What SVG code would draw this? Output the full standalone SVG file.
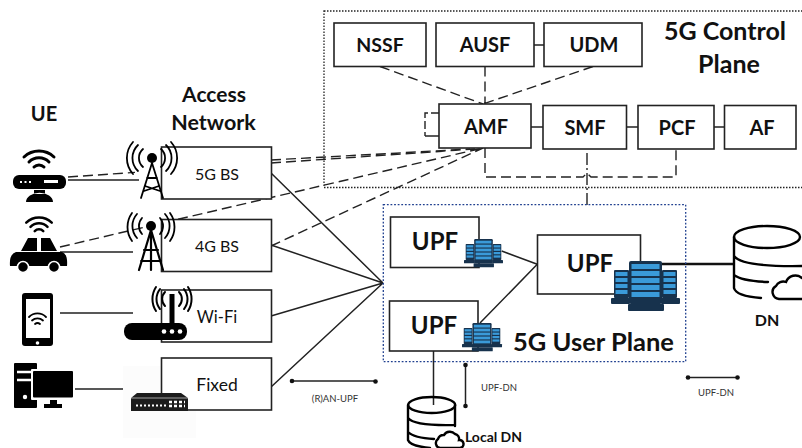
<svg xmlns="http://www.w3.org/2000/svg" xmlns:xlink="http://www.w3.org/1999/xlink" width="802" height="448" viewBox="0 0 802 448">
<style>
text{font-family:"Lato","Open Sans","Liberation Sans",sans-serif;fill:#111;text-anchor:middle}
.b{font-weight:700}
.box{fill:#fff;stroke:#222;stroke-width:1.6}
.s{fill:none;stroke:#222;stroke-width:1.5}
.d{fill:none;stroke:#222;stroke-width:1.4;stroke-dasharray:10 5}
.i{fill:none;stroke:#000;stroke-linecap:round}
.db{fill:none;stroke:#000;stroke-width:2.4;stroke-linecap:round}
.small{font-size:9.5px;fill:#333}
</style>
<defs>
<g id="wifi" class="i"><path d="M-15 -4A22 22 0 0 1 15 -4" stroke-width="3"/><path d="M-10 1A14 14 0 0 1 10 1" stroke-width="3"/><path d="M-5 6A7 7 0 0 1 5 6" stroke-width="3"/></g>
<g id="rack"><rect width="15" height="28" rx="1" fill="#17324d"/><rect x="1.500" y="2" width="12" height="4" fill="#3a9ad9"/><rect x="1.500" y="8" width="12" height="4" fill="#3a9ad9"/><rect x="1.500" y="14" width="12" height="4" fill="#3a9ad9"/><rect x="1.500" y="20" width="12" height="4" fill="#3a9ad9"/></g>
<g id="servers">
<use xlink:href="#rack" x="3" y="9"/><use xlink:href="#rack" x="51" y="9"/>
<rect x="0" y="37" width="19" height="6" rx="1" fill="#17324d"/><rect x="50" y="37" width="19" height="6" rx="1" fill="#17324d"/>
<rect x="18" y="0" width="33" height="43" rx="2" fill="#17324d"/>
<rect x="20.500" y="3" width="28" height="5" fill="#3a9ad9"/><rect x="20.500" y="10" width="28" height="5" fill="#3a9ad9"/><rect x="20.500" y="17" width="28" height="5" fill="#3a9ad9"/><rect x="20.500" y="24" width="28" height="5" fill="#3a9ad9"/><rect x="20.500" y="31" width="28" height="5" fill="#3a9ad9"/>
<rect x="17" y="43" width="36" height="7" rx="1" fill="#17324d"/>
</g>
</defs>

<g id="connectors">
<path class="s" d="M534 45H544M531 127H543M626.500 127H638M714 127H724.500"/>
<path class="d" d="M380 66.500L483 104M485 66.500V104M593 66.500L483 104"/>
<path class="d" d="M439 113H425V136" style="stroke-dasharray:8 3"/>
<path class="s" d="M425 136H439"/>
<path class="d" d="M485 148V177H583L587 173L591 177H676V149"/>
<path class="d" d="M587 153V205" style="stroke-dasharray:12 3 2 3"/>
<path class="d" d="M68 177L135 172.400M271 163L475 149M271 160L470 149M60 247L143 227.500M178 219.300L483 148M271 246L483 148"/>
<path class="s" d="M271 173L383 283M271 245L383 283M271 316L383 283M271 387L383 283"/>
<path class="s" d="M68 180H139M60 252H133M60 313H133M73 389H139"/>
<path class="s" d="M501.700 251L537.300 264.300M480 323L537.300 264.300M433.500 351V405"/>
<path d="M640 264H735" fill="none" stroke="#111" stroke-width="2.600"/>
</g>

<g id="control-plane"><rect x="324" y="11" width="490" height="176.500" fill="none" stroke="#222" stroke-width="1.300" stroke-dasharray="1.500 1.500"/>
<text class="b" font-size="25" x="725" y="40">5G Control</text><text class="b" font-size="25" x="729" y="72.500">Plane</text></g>
<g id="user-plane"><rect x="383.300" y="204.700" width="302.400" height="157" fill="none" stroke="#1f3f8f" stroke-width="1.300" stroke-dasharray="1.800 1.800"/>
<text class="b" font-size="25.500" x="593.500" y="351">5G User Plane</text></g>

<g id="nssf"><rect class="box" x="334" y="23" width="92" height="43.500"/><text class="b" font-size="19.500" x="380" y="51.500">NSSF</text></g>
<g id="ausf"><rect class="box" x="436" y="23" width="98" height="43.500"/><text class="b" font-size="20" x="485" y="51.500">AUSF</text></g>
<g id="udm"><rect class="box" x="544" y="23" width="98" height="43.500"/><text class="b" font-size="20" x="594" y="51.500">UDM</text></g>
<g id="amf"><rect class="box" x="439" y="104" width="92" height="44"/><text class="b" font-size="20" x="486" y="133.500">AMF</text></g>
<g id="smf"><rect class="box" x="543" y="105.500" width="83.500" height="43.500"/><text class="b" font-size="20" x="585" y="134.500">SMF</text></g>
<g id="pcf"><rect class="box" x="638" y="105.500" width="76" height="43.500"/><text class="b" font-size="20" x="677" y="134.500">PCF</text></g>
<g id="af"><rect class="box" x="724.500" y="105.500" width="71.500" height="43.500"/><text class="b" font-size="20" x="762" y="134.500">AF</text></g>

<g id="upf1"><rect class="box" x="390.500" y="217" width="88.500" height="50.500"/><text class="b" font-size="24" x="435" y="250">UPF</text><use xlink:href="#servers" transform="translate(464 239) scale(.565)"/></g>
<g id="upf2"><rect class="box" x="389.500" y="301" width="88.500" height="50"/><text class="b" font-size="24" x="434" y="334">UPF</text><use xlink:href="#servers" transform="translate(462 323) scale(.58 .565)"/></g>
<g id="upf3"><rect class="box" x="537.500" y="235" width="103" height="59"/><text class="b" font-size="24" x="590" y="272">UPF</text><use xlink:href="#servers" transform="translate(611 261)"/></g>

<g id="ue-label"><text class="b" font-size="20" x="44" y="120.500">UE</text></g>
<g id="access-label"><text class="b" font-size="21" x="214" y="101.500">Access</text><text class="b" font-size="21.500" x="213.500" y="130">Network</text></g>

<g id="bs5g"><rect class="box" x="161.500" y="147" width="110" height="52"/><text font-size="16" x="217" y="180">5G BS</text>
<g class="i" stroke-width="1.800"><circle cx="152" cy="158" r="5" fill="#000" stroke="none"/><path d="M143 149A12 12 0 0 0 143 167M138 145A18 18 0 0 0 138 171M133 142A24 24 0 0 0 133 174M161 149A12 12 0 0 1 161 167M166 145A18 18 0 0 1 166 171M171 142A24 24 0 0 1 171 174"/><path d="M152 163L141 198M152 163L163 198M147 178H157M145 186L160 191M159 186L144 191"/></g></g>
<g id="bs4g"><rect class="box" x="161.500" y="219.500" width="110" height="52"/><text font-size="16" x="217" y="252">4G BS</text>
<g class="i" stroke-width="1.800"><circle cx="151" cy="226" r="5" fill="#000" stroke="none"/><path d="M142 218A12 12 0 0 0 142 234M137 214A18 18 0 0 0 137 238M132 213A24 24 0 0 0 132 241M160 218A12 12 0 0 1 160 234M165 214A18 18 0 0 1 165 238M170 213A24 24 0 0 1 170 241"/><path d="M151 230L139 270M151 230L163 270M151 230V270M144 250H158M141 261H161" stroke-width="2.200"/></g></g>
<g id="wifi-ap"><rect class="box" x="161.500" y="290" width="110" height="52"/><text font-size="16.500" x="217" y="323">Wi-Fi</text>
<rect x="124" y="323" width="63" height="17" rx="8" fill="#000"/><rect x="169.500" y="294" width="5" height="30" fill="#000"/>
<circle cx="164" cy="331.500" r="2.300" fill="#fff"/><circle cx="172" cy="331.500" r="2.300" fill="#fff"/><circle cx="180" cy="331.500" r="2.300" fill="#fff"/>
<path class="i" stroke-width="2" d="M165 292A10 10 0 0 0 165 306M160 289A16 16 0 0 0 160 309M156 287A22 22 0 0 0 156 311M179 292A10 10 0 0 1 179 306M184 289A16 16 0 0 1 184 309M188 287A22 22 0 0 1 188 311"/></g>
<g id="fixed-ap"><rect x="123" y="366" width="73" height="72" fill="#fcfcfc"/><rect class="box" x="161.500" y="358" width="110" height="52"/><text font-size="17.500" x="217" y="391">Fixed</text>
<path d="M137 393H181L188 398V411H131V398Z" fill="#1c1c1c"/><path d="M131 398H188" stroke="#fff" stroke-width=".6"/><path d="M136 405.500H166" stroke="#fff" stroke-width="2" stroke-dasharray="2 2"/><path d="M169 402H185M169 406H185" stroke="#fff" stroke-width="2.500" stroke-dasharray="3 2"/></g>

<g id="ue-router"><use xlink:href="#wifi" transform="translate(39 161)"/><rect x="13" y="175" width="53" height="14" rx="6" fill="#000"/><path d="M20 182H33" stroke="#fff" stroke-width="2" stroke-dasharray="2 2.500"/><rect x="44" y="180" width="14" height="3" fill="#fff"/><path d="M26 202A13 9 0 0 1 53 202ZM34 194H45V190H34Z" fill="#000"/></g>
<g id="ue-car"><use xlink:href="#wifi" transform="translate(39 226) scale(.85)"/><path d="M28 238H37V251H21ZM41 238H50L57 251H41Z" fill="#000"/><path d="M16 252H62Q68 254 67 266H10Q9 254 16 252Z" fill="#000"/><circle cx="23" cy="267" r="5.500" fill="#000" stroke="#fff" stroke-width="1.500"/><circle cx="54" cy="267" r="5.500" fill="#000" stroke="#fff" stroke-width="1.500"/></g>
<g id="ue-phone"><rect x="22" y="293" width="31" height="53" rx="3" fill="#000"/><rect x="26" y="299" width="24" height="39" fill="#fff"/><circle cx="37.500" cy="343" r="1.800" fill="#fff"/><g class="i" stroke-width="1.800"><path d="M29 317A12 12 0 0 1 46 317M32 320.500A8 8 0 0 1 43 320.500M35 324A4 4 0 0 1 40 324"/></g></g>
<g id="ue-pc"><rect x="14" y="363" width="23" height="45" rx="1" fill="#000"/><path d="M17 372H31M17 380H31" stroke="#fff" stroke-width="2.500"/><circle cx="25" cy="397" r="2.200" fill="#fff"/><rect x="31" y="369" width="44" height="31" rx="1" fill="#fff"/><rect x="33" y="371" width="40" height="26.500" rx="1" fill="#000"/><path d="M50 400H57V404H62V408H44V404H50Z" fill="#000"/></g>

<g id="dn"><ellipse class="db" cx="767" cy="237" rx="33" ry="11"/><g class="db"><path d="M734 237V288Q736 296 761 298M734 256Q742 267 802 266M734 275Q742 281 768 282"/></g>
<g class="db" transform="translate(771 274)"><path d="M8 25A7 7 0 0 1 5 12A8 8 0 0 1 15 8A10 10 0 0 1 31 4M8 25H31"/></g>
<text class="b" font-size="16" x="767" y="326">DN</text></g>
<g id="local-dn"><ellipse class="db" cx="431.700" cy="405" rx="23.500" ry="8"/><g class="db"><path d="M408 405V440Q410 446 430 448M408 418Q414 426 455 425M408 432Q414 438 434 439M455 405V426"/></g>
<g class="db" transform="translate(434 430)"><path d="M6 18A5 5 0 0 1 4 9A6 6 0 0 1 10 5A7 7 0 0 1 21 4A5 5 0 0 1 25 10A4 4 0 0 1 26 18Z"/></g>
<text class="b" font-size="14" x="493.500" y="442">Local DN</text></g>

<g id="legend-ran-upf"><path class="s" d="M292 381H375.500"/><circle cx="292" cy="381" r="2.300" fill="#111"/><circle cx="375.500" cy="381.500" r="2.300" fill="#111"/><text class="small" x="335" y="402">(R)AN-UPF</text></g>
<g id="legend-upf-dn-local"><path class="s" d="M465.500 365V406"/><circle cx="465.500" cy="365" r="2.300" fill="#111"/><circle cx="465.500" cy="406" r="2.300" fill="#111"/><text class="small" x="499" y="391">UPF-DN</text></g>
<g id="legend-upf-dn"><path class="s" d="M688 377.500H737.500"/><circle cx="688" cy="377.500" r="2.300" fill="#111"/><circle cx="737.500" cy="377.500" r="2.300" fill="#111"/><text class="small" x="716" y="396">UPF-DN</text></g>
</svg>
